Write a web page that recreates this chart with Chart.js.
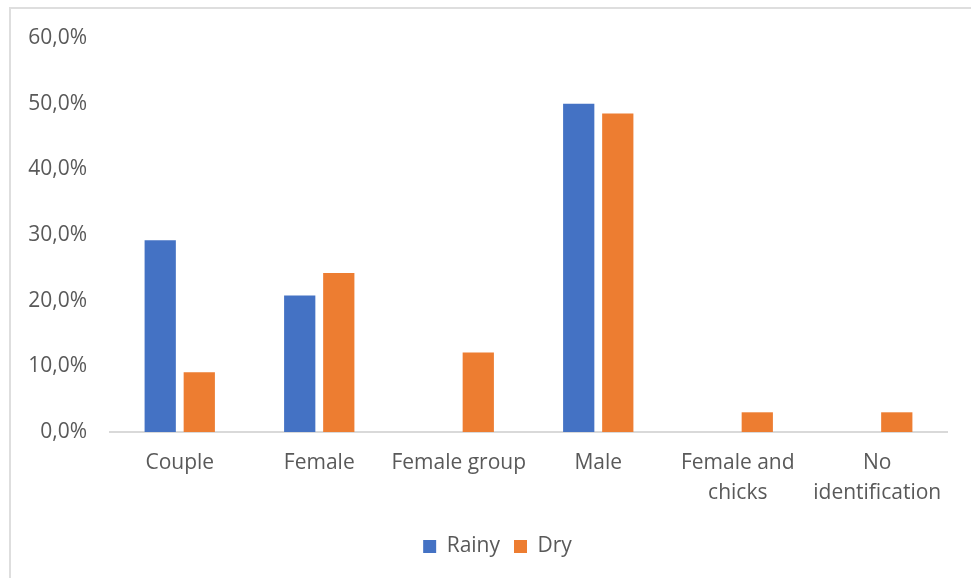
<!DOCTYPE html>
<html>
<head>
<meta charset="utf-8">
<script src="https://cdn.jsdelivr.net/npm/chart.js@4.4.1/dist/chart.umd.min.js"></script>
<style>
  html, body { margin: 0; padding: 0; background: #ffffff; overflow: hidden; }
  #frame {
    position: absolute; left: 9px; top: 7px; width: 1000px; height: 620px;
    border-left: 2px solid #dedede; border-top: 2px solid #dedede;
  }
  #wrap { position: absolute; left: 0; top: 0; width: 971px; height: 578px; }
</style>
</head>
<body>
<div id="frame"></div>
<div id="wrap"><canvas id="chart" width="971" height="578"></canvas></div>
<script>
// Groups observed, share of sightings per season (%)
const categories = [
  ["Couple"], ["Female"], ["Female group"], ["Male"],
  ["Female and", "chicks"], ["No", "identification"]
];
const rainy = [29.2, 20.8, 0, 50.0, 0, 0];
const dry = [9.1, 24.2, 12.1, 48.5, 3.0, 3.0];
const yTicks = [0, 10, 20, 30, 40, 50, 60];

const textColor = '#595959';
const fontFamily = '"Open Sans", "DejaVu Sans", sans-serif';

// Nudge the legend so it sits a little right of the canvas centre
const legendShift = {
  id: 'legendShift',
  afterLayout(chart) {
    const lg = chart.legend;
    if (lg) { lg.left += 24; lg.right += 24; }
  }
};

new Chart(document.getElementById('chart'), {
  type: 'bar',
  data: {
    labels: categories,
    datasets: [
      { label: 'Rainy', data: rainy, backgroundColor: '#4472C4',
        categoryPercentage: 0.56, barPercentage: 0.8 },
      { label: 'Dry', data: dry, backgroundColor: '#ED7D31',
        categoryPercentage: 0.56, barPercentage: 0.8 }
    ]
  },
  plugins: [legendShift],
  options: {
    responsive: false,
    animation: false,
    layout: { padding: { left: 0, right: 24, top: 38, bottom: 11 } },
    plugins: {
      tooltip: { enabled: false },
      legend: {
        position: 'bottom',
        labels: {
          color: textColor,
          font: { family: fontFamily, size: 21 },
          boxWidth: 13, boxHeight: 13, padding: 14
        }
      }
    },
    scales: {
      x: {
        grid: { display: false },
        border: { display: true, color: '#d9d9d9', width: 2 },
        ticks: {
          color: textColor,
          font: { family: fontFamily, size: 21, lineHeight: 1.43 },
          padding: 8, maxRotation: 0, autoSkip: false
        },
        afterFit(scale) { scale.height = 90; }
      },
      y: {
        min: 0, max: 60,
        grid: { display: false, drawTicks: false },
        border: { display: false },
        afterBuildTicks(scale) { scale.ticks = yTicks.map(v => ({ value: v })); },
        ticks: {
          color: textColor,
          font: { family: fontFamily, size: 21 },
          padding: 23,
          callback: v => v.toFixed(1).replace('.', ',') + '%'
        },
        afterFit(scale) { scale.width = 110; }
      }
    }
  }
});
</script>
</body>
</html>
